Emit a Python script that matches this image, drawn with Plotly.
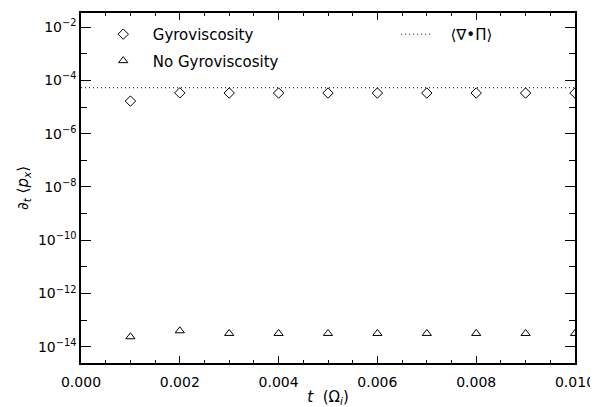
import plotly.graph_objects as go

t = [0.001, 0.002, 0.003, 0.004, 0.005, 0.006, 0.007, 0.008, 0.009, 0.010]
gyro = [1.67e-5, 3.4e-5, 3.35e-5, 3.35e-5, 3.35e-5, 3.35e-5, 3.35e-5, 3.35e-5, 3.35e-5, 3.35e-5]
nogyro = [2.37e-14, 3.98e-14, 3.16e-14, 3.16e-14, 3.16e-14, 3.16e-14, 3.16e-14, 3.16e-14, 3.16e-14, 3.16e-14]
div_pi = 5.3e-5
x_line = [0.0, 0.010]

ytick_vals = [1e-14, 1e-12, 1e-10, 1e-8, 1e-6, 1e-4, 1e-2]
ytick_text = ["10<sup>−14</sup>", "10<sup>−12</sup>", "10<sup>−10</sup>", "10<sup>−8</sup>",
              "10<sup>−6</sup>", "10<sup>−4</sup>", "10<sup>−2</sup>"]
yminor_vals = [1e-13, 1e-11, 1e-9, 1e-7, 1e-5, 1e-3]
xtick_vals = [0.0, 0.002, 0.004, 0.006, 0.008, 0.010]
xtick_text = ["0.000", "0.002", "0.004", "0.006", "0.008", "0.010"]
xminor_vals = [i * 0.0005 for i in range(21)]

FONT = "DejaVu Sans, Liberation Sans, sans-serif"

fig = go.Figure()
fig.add_trace(go.Scatter(
    x=t, y=gyro, mode="markers", name="  Gyroviscosity",
    marker=dict(symbol="diamond-open", size=8, color="black", line=dict(width=1)),
    legend="legend", legendgroup="a"))
fig.add_trace(go.Scatter(
    x=t, y=nogyro, mode="markers", name="  No Gyroviscosity",
    marker=dict(symbol="triangle-up-open", size=8, color="black", line=dict(width=1)),
    legend="legend", legendgroup="b"))
fig.add_trace(go.Scatter(
    x=x_line, y=[div_pi, div_pi], mode="lines", name="   ⟨∇•Π⟩",
    line=dict(color="black", width=1, dash="1px,3px"), legend="legend2"))

# page body has an 8px default margin; figure is sized so the plot box lands where the reference has it
fig.update_layout(
    width=590, height=399,
    margin=dict(l=73, r=23, t=5, b=44),
    paper_bgcolor="white", plot_bgcolor="white",
    font=dict(family=FONT, size=14, color="black"),
    legend=dict(x=0.045, y=0.986, xanchor="left", yanchor="top", bgcolor="rgba(0,0,0,0)",
                font=dict(size=15), tracegroupgap=4),
    legend2=dict(x=0.638, y=0.986, xanchor="left", yanchor="top", bgcolor="rgba(0,0,0,0)",
                 font=dict(size=15)),
    xaxis=dict(range=[0, 0.010], showgrid=False, zeroline=False, automargin=False,
               showline=True, linecolor="black", linewidth=1.5, mirror="ticks",
               ticks="inside", ticklen=7, tickcolor="black", tickwidth=1,
               tickmode="array", tickvals=xtick_vals, ticktext=xtick_text,
               minor=dict(tickmode="array", tickvals=xminor_vals, ticks="inside",
                          ticklen=3, tickcolor="black", tickwidth=1),
               tickfont=dict(size=14), ticklabelstandoff=5,
               title=dict(text="<i>t</i>  (Ω<sub><i>i</i></sub>)", font=dict(size=15), standoff=4)),
    yaxis=dict(type="log", range=[-14.61, -1.47], showgrid=False, zeroline=False, automargin=False,
               showline=True, linecolor="black", linewidth=1.5, mirror="ticks",
               ticks="inside", ticklen=10, tickcolor="black", tickwidth=1,
               tickmode="array", tickvals=ytick_vals, ticktext=ytick_text,
               minor=dict(tickmode="array", tickvals=yminor_vals, ticks="inside",
                          ticklen=6, tickcolor="black", tickwidth=1),
               tickfont=dict(size=14),
               title=dict(text="∂<sub><i>t</i></sub> ⟨<i>p</i><sub><i>x</i></sub>⟩", font=dict(size=15), standoff=6)),
)

fig.write_html("out.html")
